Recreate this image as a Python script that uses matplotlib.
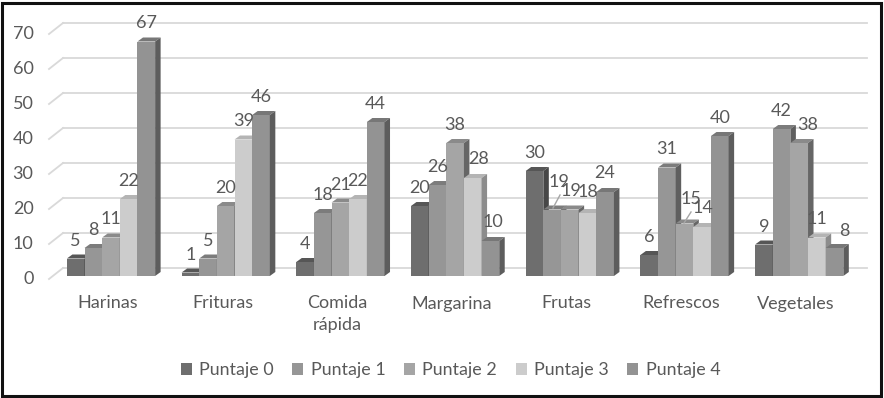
import matplotlib
matplotlib.use("Agg")
import matplotlib.pyplot as plt
from matplotlib.patches import Polygon, Patch, Rectangle

categories = ['Harinas', 'Frituras', 'Comida\nrápida', 'Margarina', 'Frutas', 'Refrescos', 'Vegetales']
puntaje_0 = [5, 1, 4, 20, 30, 6, 9]
puntaje_1 = [8, 5, 18, 26, 19, 31, 42]
puntaje_2 = [11, 20, 21, 38, 19, 15, 38]
puntaje_3 = [22, 39, 22, 28, 18, 14, 11]
puntaje_4 = [67, 46, 44, 10, 24, 40, 8]
series_names = ['Puntaje 0', 'Puntaje 1', 'Puntaje 2', 'Puntaje 3', 'Puntaje 4']
yticks = [0, 10, 20, 30, 40, 50, 60, 70]

series = [puntaje_0, puntaje_1, puntaje_2, puntaje_3, puntaje_4]
front = ['#6e6e6e', '#969696', '#a5a5a5', '#cccccc', '#939393']
top = ['#565656', '#7c7c7c', '#8a8a8a', '#b4b4b4', '#777777']
side = ['#474747', '#5f5f5f', '#666666', '#8c8c8c', '#5d5d5d']
text_col = '#595959'

W, H = 884, 398
# pixel scales of the chart
px_x = 114.7        # pixels per category
px_y = 3.5          # pixels per value unit
x0_px = 111         # centre of first group
y0_px = 276         # bar base


def xp(px):
    return (px - x0_px) / px_x


def yp(py):
    return (y0_px - py) / px_y


plt.rcParams['font.family'] = ['Lato', 'DejaVu Sans']

fig = plt.figure(figsize=(W / 100, H / 100), dpi=100)
ax = fig.add_axes([0, 0, 1, 1])
ax.set_xlim(xp(0), xp(W))
ax.set_ylim(yp(H), yp(0))
ax.axis('off')

bw = 17.65 / px_x
dx = 5.5 / px_x
dy = 4 / px_y

# back wall grid and the little slanted stubs on the left
for v in yticks:
    back = v + 8 / px_y
    ax.plot([xp(63), xp(867)], [back, back], color='#d9d9d9', lw=1.3, zorder=1)
    ax.plot([xp(49), xp(63)], [v - 3 / px_y, back], color='#d9d9d9', lw=1.3, zorder=1)
    ax.text(xp(33.5), v - 3 / px_y, str(v), ha='right', va='center', fontsize=13, color=text_col)

for c in range(len(categories)):
    for s in range(5):
        v = series[s][c]
        x = c + (s - 2.5) * bw
        ax.bar(x, v, width=bw, align='edge', color=front[s], linewidth=0, zorder=2 + c + s * 0.1)
        ax.add_patch(Polygon([(x, v), (x + bw, v), (x + bw + dx, v + dy), (x + dx, v + dy)],
                             closed=True, fc=top[s], lw=0, zorder=2 + c + s * 0.1))
        ax.add_patch(Polygon([(x + bw, 0), (x + bw + dx, dy), (x + bw + dx, v + dy), (x + bw, v)],
                             closed=True, fc=side[s], lw=0, zorder=2 + c + s * 0.1))
    ax.text(c - 3 / px_x, yp(295.5), categories[c], ha='center', va='top', fontsize=13,
            color=text_col, linespacing=1.42)

# label nudges in pixels from the default place (series, category): (dx, dy)
nudge = {
    (3, 3): (6, 1), (4, 3): (2, 1),
    (1, 4): (7, 9.5), (2, 4): (1, 0), (3, 4): (0, 3), (4, 4): (0, 1),
    (2, 5): (6, 6.5), (3, 5): (1, 1), (2, 6): (8, 0), (4, 6): (10, -1),
}
for c in range(len(categories)):
    for s in range(5):
        v = series[s][c]
        nx, ny = nudge.get((s, c), (0, 0))
        x = c + (s - 2) * bw + nx / px_x
        y = v + (18 + ny) / px_y
        ax.text(x, y, str(v), ha='center', va='center', fontsize=13, color=text_col, zorder=30)

# leader lines for the moved labels
ax.plot([xp(560), xp(553)], [yp(195), yp(208)], color='#a6a6a6', lw=1, zorder=29)
ax.plot([xp(691), xp(684)], [yp(212), yp(223)], color='#a6a6a6', lw=1, zorder=29)

handles = [Patch(fc=front[i], lw=0) for i in range(5)]
leg = ax.legend(handles, series_names, ncol=5, frameon=False, loc='center',
                bbox_to_anchor=(450.5 / W, 1 - 370.5 / H), fontsize=12.9, labelcolor=text_col,
                handlelength=0.62, handleheight=0.62, handletextpad=0.4, columnspacing=1.04,
                borderpad=0, borderaxespad=0)

# black frame of the picture
fig.add_artist(Rectangle((1.5 / W, 2 / H), 879.5 / W, 393 / H, transform=fig.transFigure,
                         fc='none', ec='#111111', lw=2.2))

fig.savefig('out.png', dpi=100)
